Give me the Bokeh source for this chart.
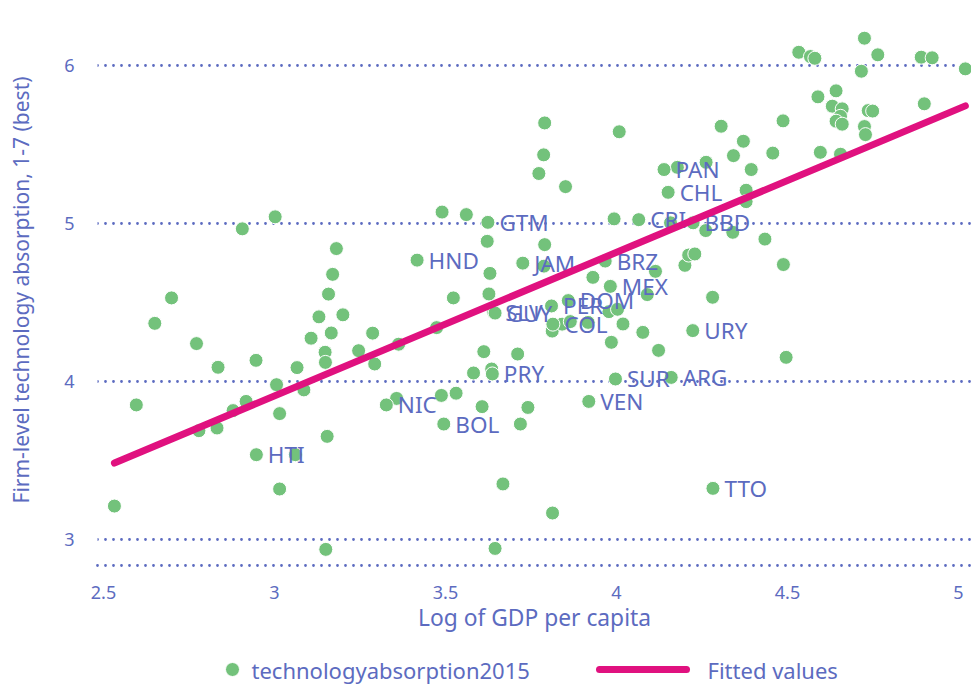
from bokeh.plotting import figure
from bokeh.models import Range1d, FixedTicker
from bokeh.layouts import column
from bokeh.core.properties import value
from bokeh.embed import file_html
from bokeh.resources import INLINE

# ---- data ----
gdp = [2.532, 2.596, 2.650, 2.699, 2.772, 2.835, 2.779, 2.832, 2.879, 2.917,
       2.906, 3.002, 2.946, 3.006, 3.015, 3.015, 3.061, 3.066, 3.086, 3.107,
       3.130, 3.200, 3.166, 3.148, 3.149, 3.154, 3.150, 3.158, 3.170, 3.181,
       3.246, 3.287, 3.293, 3.363, 3.357, 3.474, 3.488, 3.531, 3.490, 3.561,
       3.523, 3.622, 3.630, 3.627, 3.612, 3.582, 3.635, 3.607, 3.668, 3.645,
       3.711, 3.741, 3.719, 3.790, 3.788, 3.790, 3.787, 3.773, 3.851, 3.812,
       3.841, 3.865, 3.917, 3.813, 3.931, 3.978, 4.003, 4.019, 3.985, 4.077,
       4.123, 3.993, 4.008, 4.114, 4.090, 4.200, 4.211, 4.229, 4.178, 4.262,
       4.158, 4.261, 4.340, 4.281, 4.306, 4.371, 4.342, 4.394, 4.379, 4.379,
       4.434, 4.488, 4.457, 4.487, 4.496, 4.533, 4.567, 4.580, 4.589, 4.642,
       4.631, 4.660, 4.655, 4.642, 4.660, 4.596, 4.655, 4.725, 4.764, 4.716,
       4.736, 4.749, 4.725, 4.728, 4.900, 4.891, 4.923, 5.020]
tech = [3.211, 3.851, 4.367, 4.528, 4.239, 4.089, 3.688, 3.705, 3.815, 3.873,
        4.965, 5.041, 4.133, 3.979, 3.796, 3.319, 3.536, 4.087, 3.946, 4.273,
        4.408, 4.421, 4.306, 4.184, 4.120, 3.652, 2.937, 4.552, 4.677, 4.840,
        4.194, 4.305, 4.110, 4.235, 3.892, 4.340, 3.911, 3.925, 5.071, 5.055,
        4.528, 4.886, 4.683, 4.553, 4.188, 4.053, 4.078, 3.840, 3.351, 2.943,
        4.173, 3.835, 3.730, 4.865, 4.729, 5.635, 5.433, 5.315, 5.232, 4.318,
        4.362, 4.378, 4.373, 3.167, 4.658, 4.441, 4.456, 4.363, 4.247, 4.310,
        4.196, 5.028, 5.579, 4.696, 4.549, 4.734, 4.799, 4.806, 5.354, 5.386,
        5.003, 4.954, 4.943, 4.532, 5.614, 5.519, 5.428, 5.340, 5.209, 5.137,
        4.900, 4.739, 5.444, 5.648, 4.152, 6.082, 6.055, 6.044, 5.800, 5.838,
        5.741, 5.724, 5.677, 5.646, 5.627, 5.449, 5.437, 6.171, 6.066, 5.962,
        5.713, 5.710, 5.612, 5.561, 5.756, 6.051, 6.047, 5.977]

lab_code = ["HTI", "NIC", "HND", "BOL", "GTM", "SLV", "GUY", "PRY", "JAM", "PER",
            "DOM", "COL", "BRZ", "MEX", "VEN", "SUR", "ARG", "CRI", "PAN", "CHL",
            "BBD", "URY", "TTO"]
lab_gdp = [2.947, 3.327, 3.417, 3.495, 3.624, 3.641, 3.645, 3.637, 3.726, 3.810,
           3.859, 3.814, 3.967, 3.982, 3.919, 3.997, 4.160, 4.065, 4.139, 4.151,
           4.224, 4.223, 4.282]
lab_tech = [3.536, 3.851, 4.767, 3.730, 5.006, 4.437, 4.432, 4.047, 4.748, 4.477,
            4.511, 4.362, 4.761, 4.601, 3.873, 4.015, 4.025, 5.023, 5.340, 5.196,
            5.003, 4.321, 3.323]

fit_gdp = [2.532, 5.020]
fit_tech = [3.483, 5.743]

x_ticks = [2.5, 3, 3.5, 4, 4.5, 5]
x_tick_labels = ["2.5", "3", "3.5", "4", "4.5", "5"]
y_ticks = [3, 4, 5, 6]
y_tick_labels = ["3", "4", "5", "6"]

series_names = ["technologyabsorption2015", "Fitted values"]

# ---- styling ----
FONT = "Noto Sans"
TXT = "#5c6bc0"
GREEN = "#73c27b"
PINK = "#e0117f"
W = 971
LEFT = 97
H_MAIN = 640
H_LEG = 44

p = figure(width=W, height=H_MAIN, output_backend="svg", toolbar_location=None,
           x_range=Range1d(2.4825, 5.038), y_range=Range1d(2.835, 6.321),
           min_border_left=LEFT, min_border_right=0, min_border_top=14,
           min_border_bottom=H_MAIN - 565)
p.outline_line_color = None
p.background_fill_color = "white"
p.border_fill_color = "white"

r_pts = p.scatter(gdp + lab_gdp, tech + lab_tech, size=14, fill_color=GREEN,
                  line_color="white", line_width=1)
p.text(lab_gdp, lab_tech, text=lab_code, x_offset=11.5, text_baseline="middle",
       text_align="left", text_font=value(FONT), text_font_size="22.5px",
       text_color=TXT)
r_fit = p.line(fit_gdp, fit_tech, line_color=PINK, line_width=7, line_cap="round")

# axes
p.xaxis.ticker = FixedTicker(ticks=x_ticks)
p.xaxis.major_label_overrides = dict(zip(x_ticks, x_tick_labels))
p.yaxis.ticker = FixedTicker(ticks=y_ticks)
p.yaxis.major_label_overrides = dict(zip(y_ticks, y_tick_labels))
for ax in (p.xaxis[0], p.yaxis[0]):
    ax.major_tick_line_color = None
    ax.minor_tick_line_color = None
    ax.major_label_text_font = FONT
    ax.major_label_text_font_size = "18px"
    ax.major_label_text_color = TXT
    ax.axis_label_text_font = FONT
    ax.axis_label_text_font_style = "normal"
    ax.axis_label_text_color = TXT
p.xaxis.axis_label = "Log of GDP per capita"
p.xaxis.axis_label_text_font_size = "22.8px"
p.xaxis.major_label_standoff = 14
p.xaxis.axis_label_standoff = 0
p.xaxis.axis_line_color = TXT
p.xaxis.axis_line_width = 2.8
p.xaxis.axis_line_dash = "0 8"
p.xaxis.axis_line_cap = "round"

p.yaxis.axis_label = "Firm-level technology absorption, 1-7 (best)"
p.yaxis.axis_label_text_font_size = "21px"
p.yaxis.major_label_standoff = 17
p.yaxis.axis_label_standoff = 26
p.yaxis.axis_line_color = None

p.xgrid.visible = False
p.ygrid.grid_line_color = TXT
p.ygrid.grid_line_width = 2.8
p.ygrid.grid_line_dash = "0 8"
p.ygrid.grid_line_cap = "round"

# ---- legend row (pixel-unit canvas below the chart; its frame is aligned with
# the chart frame by the column layout, so its x range starts at LEFT) ----
lg = figure(width=W, height=H_LEG, output_backend="svg", toolbar_location=None,
            x_range=Range1d(LEFT, W), y_range=Range1d(0, H_LEG),
            min_border_left=LEFT, min_border_right=0, min_border_top=0,
            min_border_bottom=0, x_axis_location=None, y_axis_location=None)
lg.outline_line_color = None
lg.grid.visible = False
lg.background_fill_color = "white"
lg.border_fill_color = "white"
LEG_Y = 15
lg.scatter([232], [LEG_Y], size=14, fill_color=GREEN, line_color="white", line_width=1)
lg.line([599, 686], [LEG_Y, LEG_Y], line_color=PINK, line_width=7, line_cap="round")
lg.text([251, 707], [LEG_Y, LEG_Y], text=series_names, text_baseline="middle",
        text_align="left", text_font=value(FONT), text_font_size="22px",
        text_color=TXT)

layout = column(p, lg, spacing=0)
open("out.html", "w").write(file_html(layout, INLINE))
